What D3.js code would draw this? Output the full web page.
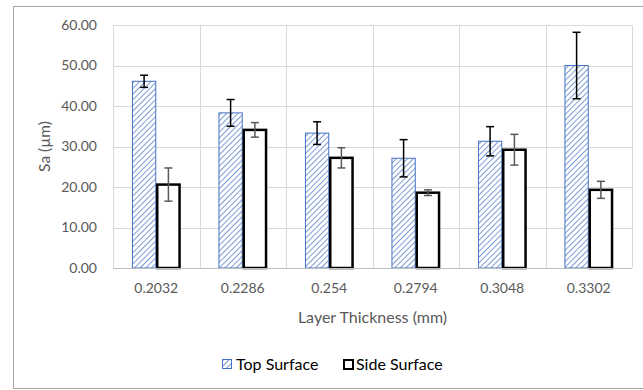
<!DOCTYPE html>
<html><head><meta charset="utf-8">
<script src="https://cdn.jsdelivr.net/npm/d3@7"></script>
<style>body{margin:0;background:#fff}svg{display:block}</style>
</head><body>
<script>
const categories = ["0.2032","0.2286","0.254","0.2794","0.3048","0.3302"];
const topValues = [46.1, 38.3, 33.3, 27.1, 31.3, 50.0];
const topErrors = [1.5, 3.3, 2.8, 4.6, 3.6, 8.2];
const sideValues = [20.6, 34.1, 27.2, 18.6, 29.2, 19.3];
const sideErrors = [4.1, 1.8, 2.5, 0.7, 3.8, 2.1];
const yTicks = [0,10,20,30,40,50,60];
const seriesNames = ["Top Surface","Side Surface"];

const W=643,H=390;
const svg=d3.select("body").append("svg").attr("width",W).attr("height",H);
const font="Lato, 'Open Sans', sans-serif";
const defs=svg.append("defs");
const pat=defs.append("pattern").attr("id","hatch").attr("patternUnits","userSpaceOnUse")
 .attr("width",4).attr("height",4).attr("patternTransform","rotate(45)");
pat.append("rect").attr("width",4).attr("height",4).attr("fill","#fff");
pat.append("line").attr("x1",0).attr("y1",0).attr("x2",0).attr("y2",4).attr("stroke","#4472C4").attr("stroke-width",1.4);

svg.append("rect").attr("x",13.5).attr("y",6.5).attr("width",640).attr("height",382)
 .attr("fill","#fff").attr("stroke","#a6a6a6").attr("stroke-width",1);

const L=113,R=632,T=25,B=268;
const x=d3.scaleBand().domain(categories).range([L,R]);
const y=d3.scaleLinear().domain([0,60]).range([B,T]);

// gridlines
svg.append("g").selectAll("line").data(yTicks.filter(d=>d>0)).join("line")
 .attr("x1",L).attr("x2",R).attr("y1",d=>Math.round(y(d))+0.5).attr("y2",d=>Math.round(y(d))+0.5)
 .attr("stroke","#d9d9d9").attr("stroke-width",1);
svg.append("g").selectAll("line").data(d3.range(categories.length+1)).join("line")
 .attr("x1",i=>Math.round(L+i*x.step())+0.5).attr("x2",i=>Math.round(L+i*x.step())+0.5)
 .attr("y1",T).attr("y2",B).attr("stroke","#d9d9d9").attr("stroke-width",1);

// y labels
svg.append("g").selectAll("text").data(yTicks).join("text")
 .attr("x",97).attr("y",d=>y(d)).attr("dy","0.35em").attr("text-anchor","end")
 .attr("font-family",font).attr("font-size",14).attr("fill","#595959")
 .text(d=>d.toFixed(2));

// x labels
svg.append("g").selectAll("text").data(categories).join("text")
 .attr("x",d=>x(d)+x.bandwidth()/2).attr("y",288).attr("dy","0.35em").attr("text-anchor","middle")
 .attr("font-family",font).attr("font-size",14).attr("fill","#595959").text(d=>d);

const bw=24.3;
const xs=d3.scaleBand().domain(seriesNames).range([0,bw*2]);
const off=(x.bandwidth()-bw*2)/2;

const gTop=svg.append("g");
gTop.selectAll("rect").data(categories).join("rect")
 .attr("x",(d)=>x(d)+off+xs("Top Surface")+0.5).attr("y",(d,i)=>y(topValues[i]))
 .attr("width",bw-1).attr("height",(d,i)=>B-y(topValues[i]))
 .attr("fill","url(#hatch)").attr("stroke","#4472C4").attr("stroke-width",1);
const gSide=svg.append("g");
gSide.selectAll("rect").data(categories).join("rect")
 .attr("x",(d)=>x(d)+off+xs("Side Surface")+1).attr("y",(d,i)=>y(sideValues[i]))
 .attr("width",bw-2).attr("height",(d,i)=>B-y(sideValues[i]))
 .attr("fill","#fff").attr("stroke","#000").attr("stroke-width",2.5);

// x axis line
svg.append("line").attr("x1",L).attr("x2",R).attr("y1",B+0.5).attr("y2",B+0.5).attr("stroke","#bfbfbf").attr("stroke-width",1);

function errBars(vals,errs,name,color){
 const g=svg.append("g").attr("stroke",color).attr("stroke-width",1.5);
 categories.forEach((c,i)=>{
  const cx=x(c)+off+xs(name)+bw/2;
  const y1=y(vals[i]+errs[i]), y2=y(vals[i]-errs[i]);
  g.append("line").attr("x1",cx).attr("x2",cx).attr("y1",y1).attr("y2",y2);
  g.append("line").attr("x1",cx-4).attr("x2",cx+4).attr("y1",y1).attr("y2",y1);
  g.append("line").attr("x1",cx-4).attr("x2",cx+4).attr("y1",y2).attr("y2",y2);
 });
}
errBars(topValues,topErrors,"Top Surface","#000");
errBars(sideValues,sideErrors,"Side Surface","#595959");

// axis titles
svg.append("text").attr("x",(L+R)/2).attr("y",317).attr("dy","0.35em").attr("text-anchor","middle")
 .attr("font-family",font).attr("font-size",16).attr("fill","#595959").text("Layer Thickness (mm)");
svg.append("text").attr("transform",`translate(45,${(T+B)/2}) rotate(-90)`).attr("dy","0.35em").attr("text-anchor","middle")
 .attr("font-family",font).attr("font-size",15.5).attr("fill","#595959").text("Sa (µm)");

// legend
const lg=svg.append("g");
lg.append("rect").attr("x",222.5).attr("y",359.5).attr("width",9).attr("height",9).attr("fill","url(#hatch)").attr("stroke","#4472C4");
lg.append("text").attr("x",236).attr("y",364).attr("dy","0.35em").attr("font-family",font).attr("font-size",16).attr("fill","#000").text(seriesNames[0]);
lg.append("rect").attr("x",344).attr("y",360).attr("width",9).attr("height",9).attr("fill","#fff").attr("stroke","#000").attr("stroke-width",2);
lg.append("text").attr("x",356).attr("y",364).attr("dy","0.35em").attr("font-family",font).attr("font-size",16).attr("fill","#000").text(seriesNames[1]);
</script>
</body></html>
